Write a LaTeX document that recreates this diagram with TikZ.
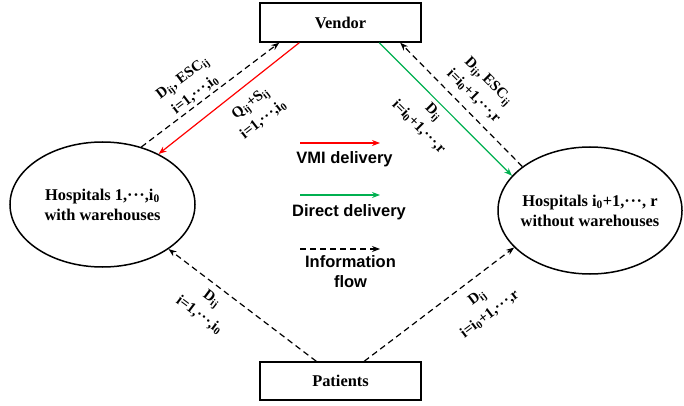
\documentclass[tikz,border=0pt]{standalone}
\usepackage{fontspec}
\setmainfont{Liberation Serif}
\setsansfont{Liberation Sans}
\usetikzlibrary{arrows.meta,calc,shapes.geometric}
\definecolor{vmired}{RGB}{255,0,0}
\definecolor{directgreen}{RGB}{0,176,80}
\newcommand\cdts{\textperiodcentered\kern0.04em\textperiodcentered\kern0.04em\textperiodcentered}
\newcommand\sbs[1]{\textsubscript{#1}}
\begin{document}
\begin{tikzpicture}[x=1pt,y=-1pt,
  box/.style={draw,line width=1.5pt,minimum width=161pt,minimum height=39pt,inner sep=0pt,
    font=\fontsize{16.4}{19}\selectfont\bfseries},
  site/.style={draw,ellipse,line width=1.5pt,inner sep=0pt},
  sitetext/.style={inner sep=0pt,align=center,font=\fontsize{16.4}{20}\selectfont\bfseries},
  link/.style={line width=1.2pt,-{Stealth[length=8pt,width=6pt]}},
  info/.style={link,dash pattern=on 6pt off 4pt},
  lbl/.style={inner sep=0pt,align=center,font=\fontsize{15}{21}\selectfont\bfseries},
  legend/.style={inner sep=0pt,anchor=base,font=\sffamily\fontsize{16.5}{20}\selectfont\bfseries},
]
\useasboundingbox (0,0) rectangle (684,406);

% actors
\node[box] (vendor) at (340.5,22.5) {Vendor};
\node[box,minimum height=38pt] (patients) at (340.5,381) {Patients};
\node[site,minimum width=185pt,minimum height=125pt] (hl) at (102.5,204.5) {};
\node[sitetext] (hltext) at (hl.center) {Hospitals 1,\cdts,i\sbs{0}\\with warehouses};
\node[site,minimum width=184pt,minimum height=127pt] (hr) at (590,210.5) {};
\node[sitetext] (hrtext) at (hr.center) {Hospitals i\sbs{0}+1,\cdts, r\\without warehouses};

% flows between vendor and hospitals
\draw[info] (hl.56) -- ($(vendor.south west)+(20,0)$);
\draw[link,vmired] ($(vendor.south west)+(40,0)$) -- (hl.42);
\draw[link,directgreen] ($(vendor.south west)+(120,0)$) -- (hr.156);
\draw[info] (hr.147) -- ($(vendor.south west)+(141,0)$);

% demand information from patients
\draw[info] ($(patients.north west)+(57,0)$) -- (hl.326);
\draw[info] ($(patients.north west)+(105,0)$) -- (hr.206);

% connector labels
\node[lbl,rotate=37] (la) at (189,86.5) {D\sbs{ij}, ESC\sbs{ij}\\i=1,\cdts,i\sbs{0}};
\node[lbl,rotate=38] (lb) at (257,111.5) {Q\sbs{ij}+S\sbs{ij}\\i=1,\cdts,i\sbs{0}};
\node[lbl,rotate=-45] (lc) at (426,119.5) {D\sbs{ij}\\i=i\sbs{0}+1,\cdts,r};
\node[lbl,rotate=-45] (ld) at (481,88.5) {D\sbs{ij}, ESC\sbs{ij}\\i=i\sbs{0}+1,\cdts,r};
\node[lbl,rotate=-37] (le) at (205.5,307) {D\sbs{ij}\\i=1,\cdts,i\sbs{0}};
\node[lbl,rotate=37] (lf) at (483.5,306) {D\sbs{ij}\\i=i\sbs{0}+1,\cdts,r};

% legend
\coordinate (r1) at (300,143); \coordinate (r2) at (380,143);
\coordinate (g1) at (300,195); \coordinate (g2) at (380,195);
\coordinate (d1) at (300,249); \coordinate (d2) at (380,249);
\draw[link,vmired] (r1) -- (r2);
\draw[link,directgreen] (g1) -- (g2);
\draw[info] (d1) -- (d2);
\node[legend] (kvmi) at (344.5,163) {VMI delivery};
\node[legend] (kdir) at (349,216.5) {Direct delivery};
\node[legend] (kinf1) at (350.5,267) {Information};
\node[legend] (kinf2) at (350.5,287) {flow};
\end{tikzpicture}
\end{document}
